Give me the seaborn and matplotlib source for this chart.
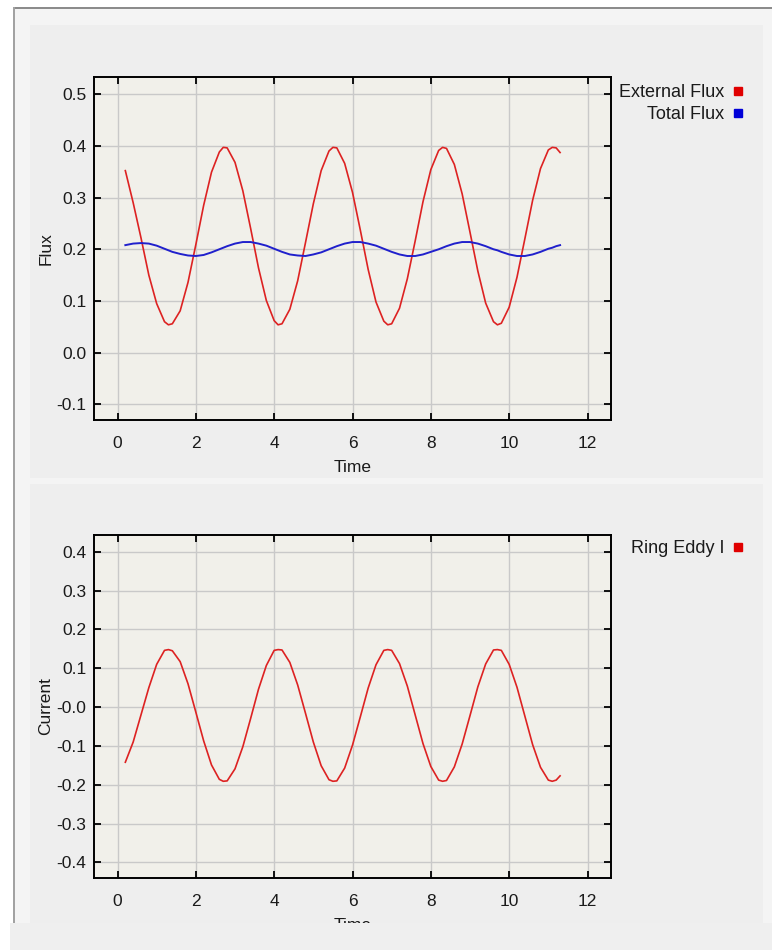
import numpy as np
import pandas as pd
import seaborn as sns
import matplotlib.pyplot as plt
from matplotlib.patches import Rectangle
from matplotlib.lines import Line2D

plt.rcParams['font.family'] = ['Liberation Sans', 'DejaVu Sans']

# sample times (extra points near the turning points)
time = [0.2, 0.4, 0.6, 0.8, 1.0, 1.2, 1.3, 1.4, 1.6, 1.8, 2.0,
        2.2, 2.4, 2.6, 2.7, 2.8, 3.0, 3.2, 3.4, 3.6, 3.8, 4.0,
        4.1, 4.2, 4.4, 4.6, 4.8, 5.0, 5.2, 5.4, 5.5, 5.6, 5.8, 6.0,
        6.2, 6.4, 6.6, 6.8, 6.9, 7.0, 7.2, 7.4, 7.6, 7.8, 8.0,
        8.2, 8.3, 8.4, 8.6, 8.8, 9.0, 9.2, 9.4, 9.6, 9.7, 9.8, 10.0,
        10.2, 10.4, 10.6, 10.8, 11.0, 11.1, 11.2, 11.3]

external_flux = [0.352, 0.290, 0.222, 0.150, 0.095, 0.060, 0.054, 0.056, 0.081, 0.136, 0.209,
                 0.285, 0.349, 0.388, 0.397, 0.396, 0.368, 0.313, 0.240, 0.164, 0.101, 0.062,
                 0.054, 0.056, 0.084, 0.139, 0.213, 0.288, 0.352, 0.390, 0.397, 0.396, 0.366, 0.310,
                 0.237, 0.161, 0.098, 0.061, 0.054, 0.056, 0.086, 0.143, 0.216, 0.292, 0.354,
                 0.391, 0.397, 0.395, 0.364, 0.307, 0.233, 0.158, 0.096, 0.060, 0.054, 0.057, 0.088,
                 0.146, 0.220, 0.295, 0.356, 0.392, 0.397, 0.396, 0.387]

total_flux = [0.208, 0.211, 0.212, 0.211, 0.207, 0.201, 0.198, 0.195, 0.191, 0.188, 0.187,
              0.189, 0.194, 0.200, 0.203, 0.206, 0.211, 0.214, 0.214, 0.211, 0.207, 0.201,
              0.198, 0.195, 0.190, 0.188, 0.187, 0.190, 0.194, 0.200, 0.203, 0.206, 0.211, 0.214,
              0.214, 0.211, 0.207, 0.201, 0.198, 0.195, 0.190, 0.187, 0.187, 0.190, 0.195,
              0.200, 0.203, 0.206, 0.211, 0.214, 0.214, 0.211, 0.206, 0.200, 0.198, 0.195, 0.190,
              0.187, 0.187, 0.190, 0.195, 0.201, 0.203, 0.206, 0.208]

ring_eddy_current = [-0.142, -0.090, -0.020, 0.050, 0.110, 0.146, 0.148, 0.145, 0.117, 0.060, -0.013,
                     -0.087, -0.149, -0.186, -0.191, -0.190, -0.159, -0.102, -0.029, 0.046, 0.107, 0.146,
                     0.148, 0.147, 0.115, 0.057, -0.016, -0.090, -0.151, -0.187, -0.191, -0.190, -0.157, -0.098,
                     -0.025, 0.049, 0.109, 0.146, 0.148, 0.146, 0.112, 0.054, -0.020, -0.094, -0.153,
                     -0.188, -0.191, -0.189, -0.154, -0.095, -0.022, 0.052, 0.111, 0.147, 0.148, 0.146, 0.110,
                     0.051, -0.023, -0.097, -0.155, -0.188, -0.191, -0.188, -0.177]

x_ticks = [0, 2, 4, 6, 8, 10, 12]
flux_ticks = [0.5, 0.4, 0.3, 0.2, 0.1, 0.0, -0.1]
flux_labels = ['0.5', '0.4', '0.3', '0.2', '0.1', '0.0', '-0.1']
current_ticks = [0.4, 0.3, 0.2, 0.1, 0.0, -0.1, -0.2, -0.3, -0.4]
current_labels = ['0.4', '0.3', '0.2', '0.1', '-0.0', '-0.1', '-0.2', '-0.3', '-0.4']

flux_df = pd.DataFrame({'Time': time, 'External Flux': external_flux, 'Total Flux': total_flux})
current_df = pd.DataFrame({'Time': time, 'Ring Eddy I': ring_eddy_current})

W, H = 772, 950
fig = plt.figure(figsize=(W / 100, H / 100), dpi=100)
fig.patch.set_facecolor('#efefef')


def px_rect(x0, y0, x1, y1, color, z=0):
    # rectangle given in screen pixels (origin top-left)
    fig.patches.append(Rectangle((x0 / W, 1 - y1 / H), (x1 - x0) / W, (y1 - y0) / H,
                                 transform=fig.transFigure, facecolor=color,
                                 edgecolor='none', zorder=z))


# window frame and panels behind the charts
px_rect(0, 0, W, 7, 'white', -5)
px_rect(0, 0, 13, H, 'white', -5)
px_rect(13, 9, W, 923, '#f4f4f4', -4)
px_rect(30, 25, 763, 478, '#eeeeee', -3)
px_rect(30, 484, 763, 923, '#eeeeee', -3)
px_rect(13, 7, W, 9, '#8c8c8c', -2)
px_rect(13, 7, 14.5, 925, '#a2a2a2', -2)

ax1 = fig.add_axes([94 / W, 1 - 420 / H, 517 / W, 343 / H])
ax2 = fig.add_axes([94 / W, 1 - 878 / H, 517 / W, 343 / H])

sns.lineplot(data=flux_df, x='Time', y='External Flux', color='#dd2222', linewidth=1.2, ax=ax1)
sns.lineplot(data=flux_df, x='Time', y='Total Flux', color='#2020cc', linewidth=1.4, ax=ax1)
sns.lineplot(data=current_df, x='Time', y='Ring Eddy I', color='#dd2222', linewidth=1.2, ax=ax2)


def style_axes(ax, ylim, yticks, ylabels, ylabel):
    ax.set_facecolor('#f1f0ea')
    ax.set_xlim(-0.6, 12.6)
    ax.set_ylim(*ylim)
    ax.set_xticks(x_ticks)
    ax.set_yticks(yticks)
    ax.set_yticklabels(ylabels)
    ax.grid(True, color='#c9c9c9', linewidth=1)
    ax.set_axisbelow(True)
    ax.tick_params(direction='in', length=4.8, width=1.3, top=True, right=True,
                   labelsize=12.5, labelcolor='#1a1a1a')
    ax.tick_params(axis='x', pad=11.5)
    ax.tick_params(axis='y', pad=5.5)
    for s in ax.spines.values():
        s.set_linewidth(1.4)
    ax.set_xlabel('Time', fontsize=12.5, labelpad=6.5, color='#1a1a1a')
    ax.set_ylabel(ylabel, fontsize=12.5, labelpad=2, color='#1a1a1a')


style_axes(ax1, (-0.13, 0.533), flux_ticks, flux_labels, 'Flux')
style_axes(ax2, (-0.44, 0.443), current_ticks, current_labels, 'Current')


def square(c):
    return Line2D([], [], marker='s', linestyle='none', color=c, markersize=5.5)


leg_kw = dict(loc='upper right', bbox_transform=fig.transFigure, frameon=False,
              markerfirst=False, handlelength=0.6, handletextpad=0.45, borderpad=0,
              borderaxespad=0, labelspacing=0.3, fontsize=13, labelcolor='#1a1a1a')
ax1.legend([square('#e00000'), square('#0000d8')], ['External Flux', 'Total Flux'],
           bbox_to_anchor=(743 / W, 1 - 84 / H), **leg_kw)
ax2.legend([square('#e00000')], ['Ring Eddy I'],
           bbox_to_anchor=(743 / W, 1 - 540 / H), **leg_kw)

# bottom strip hides the lower part of the last axis label, as in the screenshot
px_rect(10, 923, W, H, '#efefef', 10)

fig.savefig('out.png', dpi=100, facecolor=fig.get_facecolor())
